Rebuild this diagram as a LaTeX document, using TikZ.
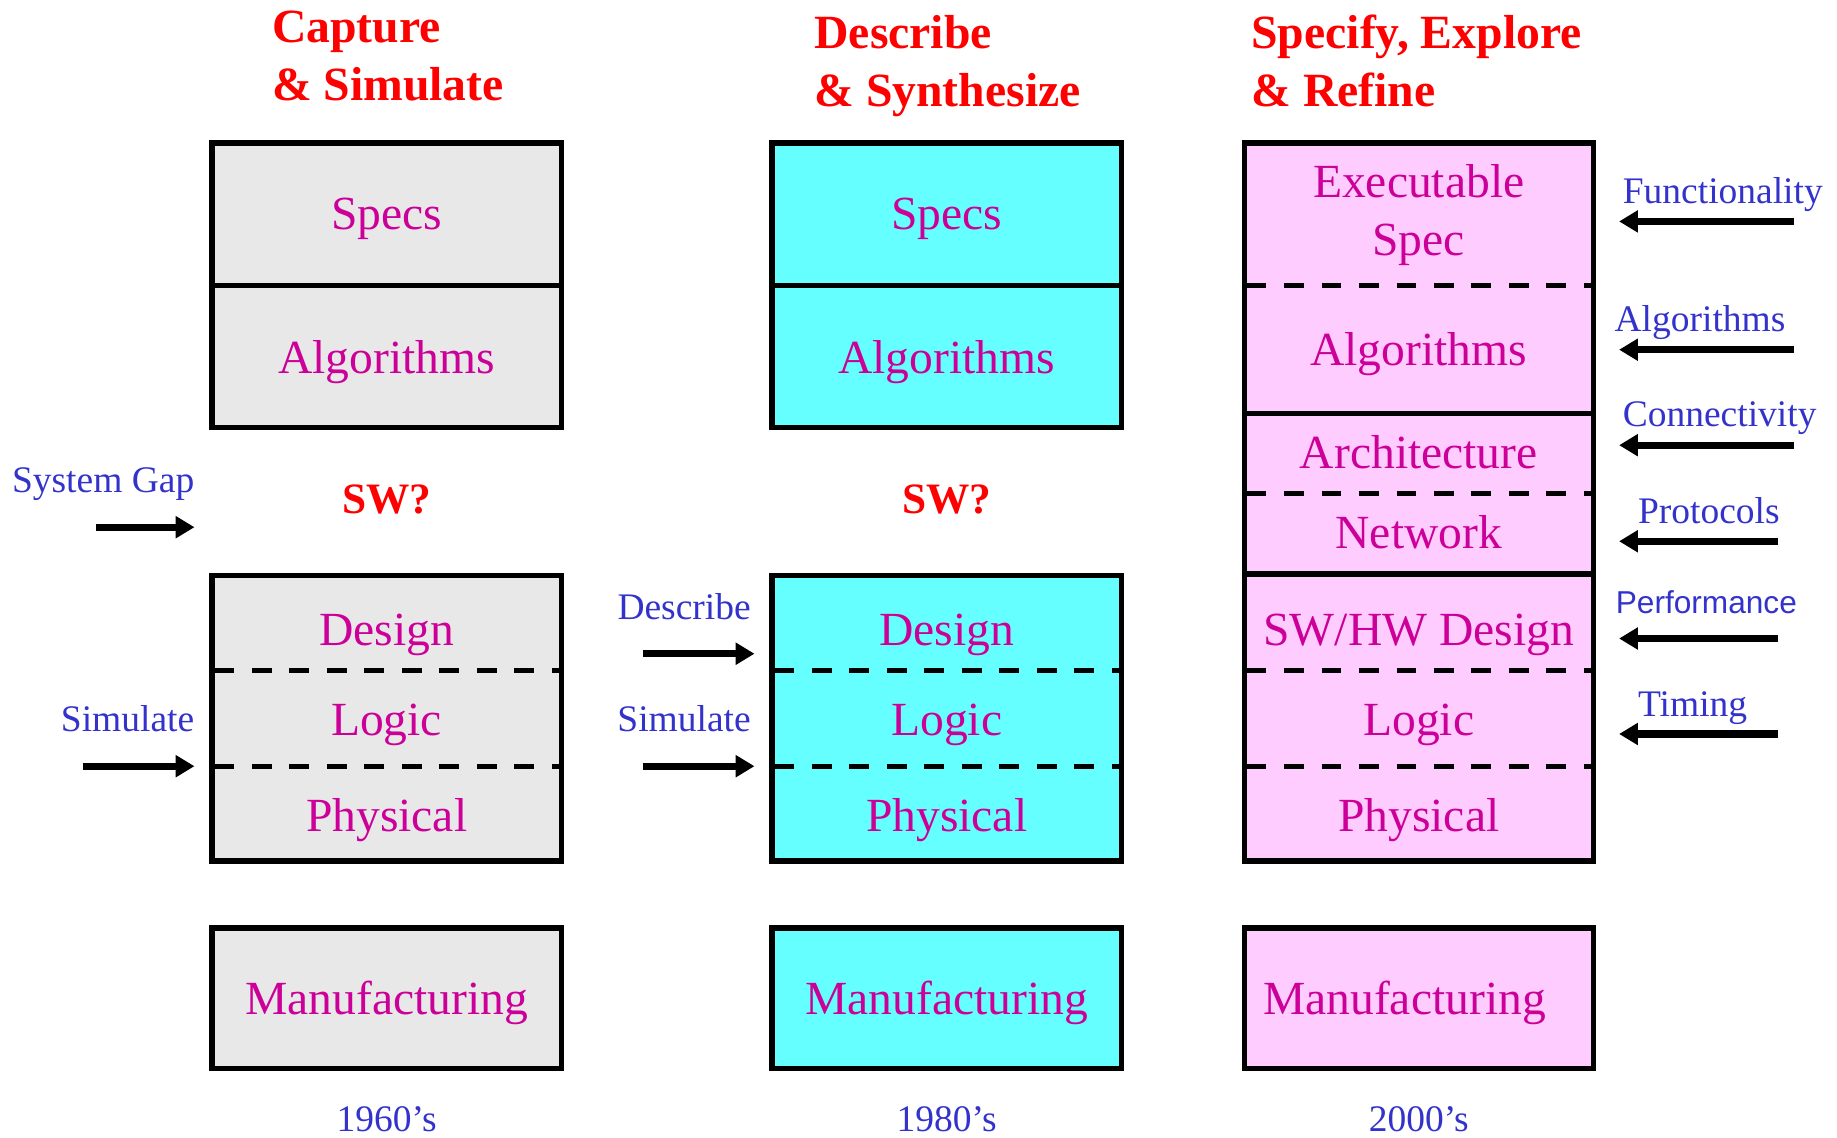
\documentclass[tikz,border=0pt]{standalone}
\usepackage{fontspec}
\setmainfont{Liberation Serif}
\setsansfont{Liberation Sans}
\usetikzlibrary{arrows.meta}
\definecolor{layertext}{HTML}{CC0099}
\definecolor{sidetext}{HTML}{3333CC}
\definecolor{greyfill}{HTML}{E8E8E8}
\definecolor{cyanfill}{HTML}{66FFFF}
\definecolor{pinkfill}{HTML}{FFCCFF}
\tikzset{
    headline/.style={anchor=base west, inner sep=0pt, text=red, font=\fontsize{40.7}{48}\selectfont\bfseries},
    layer/.style={anchor=base, inner sep=0pt, text=layertext, font=\fontsize{40.6}{48}\selectfont},
    swq/.style={anchor=base, inner sep=0pt, text=red, font=\fontsize{37}{44}\selectfont\bfseries},
    side/.style={inner sep=0pt, text=sidetext, font=\fontsize{32}{38}\selectfont},
    frame/.style={draw=black, line width=4.5pt},
    cut/.style={draw=black, line width=4.5pt, dash pattern=on 17pt off 15pt},
    push/.style={draw=black, line width=6pt, -{Triangle[length=16pt,width=18pt]}}
}
\begin{document}
\begin{tikzpicture}[x=1pt,y=-1pt]
\useasboundingbox (0,0) rectangle (1568,971);

% column headings
\node[headline] (capA) at (232,36.7) {Capture};
\node[headline] (capB) at (232,85.7) {\& Simulate};
\node[headline] (desA) at (695,41.5) {Describe};
\node[headline] (desB) at (695,90.5) {\& Synthesize};
\node[headline] (speA) at (1068,41.5) {Specify, Explore};
\node[headline] (speB) at (1068,90.5) {\& Refine};

% 1960's column
\draw[frame, fill=greyfill] (181,122) rectangle (479,365);
\draw[frame] (181,243.5) -- (479,243.5);
\draw[frame, fill=greyfill] (181,491) rectangle (479,735);
\draw[cut] (183,572) -- (477,572);
\draw[cut] (183,654) -- (477,654);
\draw[frame, fill=greyfill] (181,792) rectangle (479,912);
\node[layer] (specsA) at (330,196) {Specs};
\node[layer] (algoA) at (330,319) {Algorithms};
\node[swq] (swA) at (330,438) {SW?};
\node[layer] (designA) at (330,551) {Design};
\node[layer] (logicA) at (330,628) {Logic};
\node[layer] (physA) at (330,710) {Physical};
\node[layer] (manA) at (330,866) {Manufacturing};
\node[side, anchor=base] (yearA) at (330,965.5) {1960’s};

% 1980's column
\draw[frame, fill=cyanfill] (659,122) rectangle (957,365);
\draw[frame] (659,243.5) -- (957,243.5);
\draw[frame, fill=cyanfill] (659,491) rectangle (957,735);
\draw[cut] (661,572) -- (955,572);
\draw[cut] (661,654) -- (955,654);
\draw[frame, fill=cyanfill] (659,792) rectangle (957,912);
\node[layer] (specsB) at (808,196) {Specs};
\node[layer] (algoB) at (808,319) {Algorithms};
\node[swq] (swB) at (808,438) {SW?};
\node[layer] (designB) at (808,551) {Design};
\node[layer] (logicB) at (808,628) {Logic};
\node[layer] (physB) at (808,710) {Physical};
\node[layer] (manB) at (808,866) {Manufacturing};
\node[side, anchor=base] (yearB) at (808,965.5) {1980’s};

% 2000's column
\draw[frame, fill=pinkfill] (1062,122) rectangle (1360,735);
\draw[cut] (1064,243.5) -- (1358,243.5);
\draw[frame] (1062,353) -- (1360,353);
\draw[cut] (1064,421) -- (1358,421);
\draw[frame] (1062,490) -- (1360,490);
\draw[cut] (1064,572) -- (1358,572);
\draw[cut] (1064,654) -- (1358,654);
\draw[frame, fill=pinkfill] (1062,792) rectangle (1360,912);
\node[layer] (execC) at (1211,169) {Executable};
\node[layer] (specC) at (1211,218) {Spec};
\node[layer] (algoC) at (1211,312) {Algorithms};
\node[layer] (archC) at (1211,400) {Architecture};
\node[layer] (netC) at (1211,468) {Network};
\node[layer] (swhwC) at (1211,551) {SW/HW Design};
\node[layer] (logicC) at (1211,628) {Logic};
\node[layer] (physC) at (1211,710) {Physical};
\node[layer, anchor=base west] (manC) at (1078,866) {Manufacturing};
\node[side, anchor=base] (yearC) at (1211,965.5) {2000’s};

% left hand arrows
\node[side, anchor=base east] (gapL) at (166,420.6) {System Gap};
\coordinate (gapT) at (82,450);
\coordinate (gapH) at (166,450);
\draw[push] (gapT) -- (gapH);
\node[side, anchor=base east] (simL) at (166,624.5) {Simulate};
\coordinate (simT) at (71,654);
\coordinate (simH) at (166,654);
\draw[push] (simT) -- (simH);
\node[side, anchor=base east] (descM) at (641,529) {Describe};
\coordinate (descT) at (549,558);
\coordinate (descH) at (644,558);
\draw[push] (descT) -- (descH);
\node[side, anchor=base east] (simM) at (641,624.5) {Simulate};
\coordinate (simMT) at (549,654);
\coordinate (simMH) at (644,654);
\draw[push] (simMT) -- (simMH);

% right hand arrows
\node[side, anchor=base west] (funR) at (1385,173.5) {Functionality};
\coordinate (funT) at (1531,189);
\coordinate (funH) at (1382,189);
\draw[push] (funT) -- (funH);
\node[side, anchor=base west] (algR) at (1378,283) {Algorithms};
\coordinate (algT) at (1531,298.5);
\coordinate (algH) at (1382,298.5);
\draw[push] (algT) -- (algH);
\node[side, anchor=base west] (conR) at (1385,364) {Connectivity};
\coordinate (conT) at (1531,380);
\coordinate (conH) at (1382,380);
\draw[push] (conT) -- (conH);
\node[side, anchor=base west] (proR) at (1398,446.5) {Protocols};
\coordinate (proT) at (1518,462);
\coordinate (proH) at (1382,462);
\draw[push] (proT) -- (proH);
\node[side, anchor=base west, font=\sffamily\fontsize{27}{32}\selectfont] (perR) at (1379,523.5) {Performance};
\coordinate (perT) at (1518,545);
\coordinate (perH) at (1382,545);
\draw[push] (perT) -- (perH);
\node[side, anchor=base west] (timR) at (1398,611.5) {Timing};
\coordinate (timT) at (1518,626.5);
\coordinate (timH) at (1382,626.5);
\draw[push] (timT) -- (timH);

\end{tikzpicture}
\end{document}
